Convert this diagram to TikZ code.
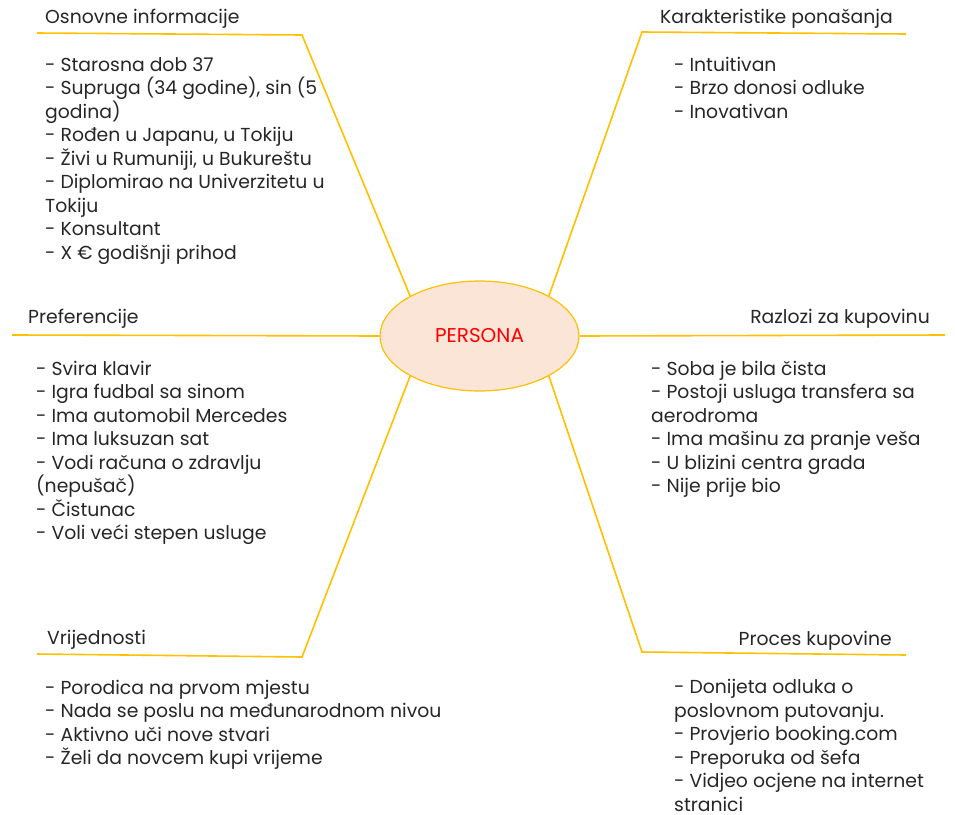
\documentclass[tikz,border=0pt]{standalone}
\usepackage{fontspec}
\setmainfont{Poppins}
\usetikzlibrary{shapes.geometric,positioning,calc}
\definecolor{branchc}{HTML}{FFC000}
\definecolor{personafill}{HTML}{FBE5D6}
\definecolor{txtc}{HTML}{262626}
\tikzset{
  branch/.style={branchc, line width=1.6pt},
  head/.style={inner sep=0pt, anchor=base west, text=txtc, font=\fontsize{18.8}{23.5}\selectfont},
  % the base of a list is the baseline of its last line
  items/.style={inner sep=0pt, anchor=base west, align=left, text=txtc, font=\fontsize{18.8}{23.5}\selectfont},
}
\begin{document}
\begin{tikzpicture}[x=1pt,y=-1pt]
\useasboundingbox (0,0) rectangle (955,814);

\node[ellipse, draw=branchc, line width=1.2pt, fill=personafill, minimum width=199pt, minimum height=110pt,
      text=red, font=\fontsize{20}{24}\selectfont] (persona) at (479.5,336) {PERSONA};

% corners of the branches
\coordinate (oiend) at (37,33);   \coordinate (oibend) at (302,35);
\coordinate (kpend) at (906,34);  \coordinate (kpbend) at (642,32);
\coordinate (prend) at (12,335);
\coordinate (rkend) at (945,335);
\coordinate (vrend) at (37,654);  \coordinate (vrbend) at (302,657);
\coordinate (pkend) at (906,655); \coordinate (pkbend) at (642,652);

\draw[branch] (persona.150) -- (oibend) -- (oiend);
\draw[branch] (persona.30) -- (kpbend) -- (kpend);
\draw[branch] (persona.west) -- (prend);
\draw[branch] (persona.east) -- (rkend);
\draw[branch] (persona.210) -- (vrbend) -- (vrend);
\draw[branch] (persona.330) -- (pkbend) -- (pkend);

% headings
\node[head] (oihead) at (45,23) {Osnovne informacije};
\node[head] (kphead) at (660,23) {Karakteristike ponašanja};
\node[head] (prhead) at (28,323) {Preferencije};
\node[head, anchor=base east] (rkhead) at (930,323) {Razlozi za kupovinu};
\node[head] (vrhead) at (47,644) {Vrijednosti};
\node[head, anchor=base east] (pkhead) at (892,645) {Proces kupovine};

% lists
\node[items] (oilist) at (45,259) {- Starosna dob 37\\- Supruga (34 godine), sin (5\\godina)\\- Rođen u Japanu, u Tokiju\\- Živi u Rumuniji, u Bukureštu\\- Diplomirao na Univerzitetu u\\Tokiju\\- Konsultant\\- X € godišnji prihod};
\node[items] (kplist) at (674,118) {- Intuitivan\\- Brzo donosi odluke\\- Inovativan};
\node[items] (prlist) at (36,539.5) {- Svira klavir\\- Igra fudbal sa sinom\\- Ima automobil Mercedes\\- Ima luksuzan sat\\- Vodi računa o zdravlju\\(nepušač)\\- Čistunac\\- Voli veći stepen usluge};
\node[items] (rklist) at (651,492.5) {- Soba je bila čista\\- Postoji usluga transfera sa\\aerodroma\\- Ima mašinu za pranje veša\\- U blizini centra grada\\- Nije prije bio};
\node[items] (vrlist) at (45,764.5) {- Porodica na prvom mjestu\\- Nada se poslu na međunarodnom nivou\\- Aktivno uči nove stvari\\- Želi da novcem kupi vrijeme};
\node[items] (pklist) at (674,811) {- Donijeta odluka o\\poslovnom putovanju.\\- Provjerio booking.com\\- Preporuka od šefa\\- Vidjeo ocjene na internet\\stranici};
\end{tikzpicture}
\end{document}
